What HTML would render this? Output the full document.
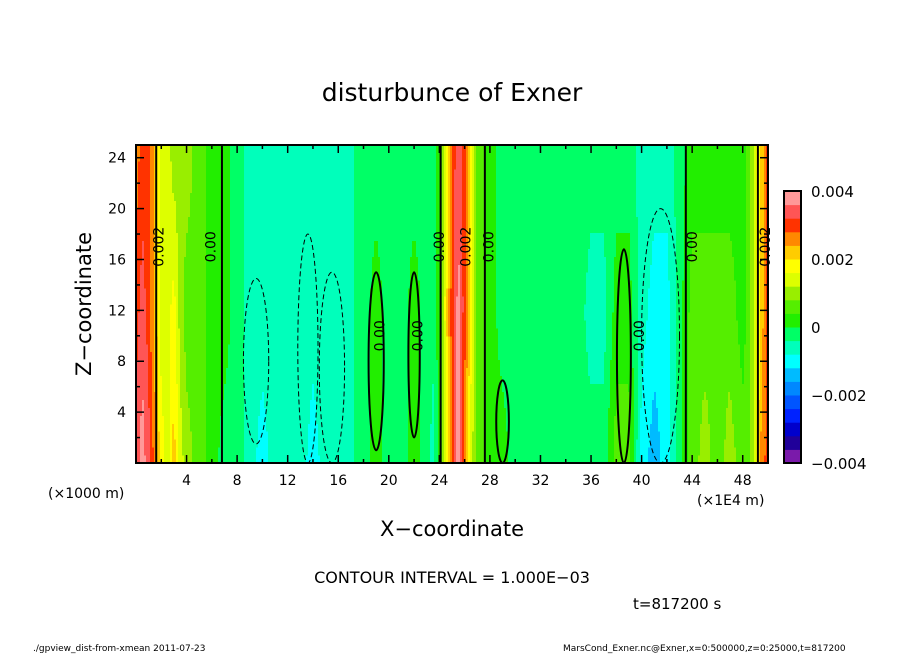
<!DOCTYPE html>
<html><head><meta charset="utf-8"><style>
body{margin:0;background:#fff;width:904px;height:654px;overflow:hidden;font-family:"DejaVu Sans","Liberation Sans",sans-serif}
svg text{font-family:"DejaVu Sans","Liberation Sans",sans-serif}
</style></head><body>
<svg id="chart" width="904" height="654" viewBox="0 0 904 654" xmlns="http://www.w3.org/2000/svg">
<text x="452" y="101" font-size="25" text-anchor="middle" fill="#000">disturbunce of Exner</text>
<g id="field" shape-rendering="crispEdges"></g>
<g id="contours" fill="none" stroke="#000"></g>
<g id="axes"></g>
<g id="cbar"></g>
<text transform="translate(91,304) rotate(-90)" font-size="21" text-anchor="middle">Z−coordinate</text>
<text x="452" y="536" font-size="21" text-anchor="middle">X−coordinate</text>
<text x="48" y="498" font-size="14">(×1000 m)</text>
<text x="697" y="505" font-size="14">(×1E4 m)</text>
<text x="452" y="583" font-size="16" text-anchor="middle">CONTOUR INTERVAL = 1.000E−03</text>
<text x="633" y="609" font-size="15">t=817200 s</text>
<text x="33" y="651" font-size="9">./gpview_dist-from-xmean  2011-07-23</text>
<text x="563" y="651" font-size="9">MarsCond_Exner.nc@Exner,x=0:500000,z=0:25000,t=817200</text>
</svg>
<script>
// data (values in units of 1e-3)
const colXs   = [0,0.5,1,1.5,2,2.5,3,3.5,4,5,6,7,8,9,10,11,12,13,14,15,16,17,17.5,18,19,20,21,22,23,23.5,24,24.5,25,25.5,26,26.5,27,28,29,30,31,32,33,34,35,36,37,38,39,40,41,42,43,44,45,46,47,48,48.5,49,49.5,50];
const valTop  = [2.6,3.0,3.0,2.2,1.4,1.4,1.0,1.0,1.0,0.6,0.2,0.2,-0.2,-0.6,-0.6,-0.6,-0.6,-0.6,-0.6,-0.6,-0.6,-0.6,-0.2,-0.2,-0.2,-0.2,-0.2,-0.2,-0.2,-0.2,0.2,1.4,3.0,3.4,3.0,1.8,0.6,0.2,-0.2,-0.2,-0.2,-0.2,-0.2,-0.2,-0.2,-0.2,-0.2,-0.2,-0.2,-0.6,-0.6,-0.6,-0.2,0.2,0.2,0.2,0.2,0.2,0.6,1.4,2.2,3.0];
const valMid  = [3.0,3.4,3.0,2.2,1.4,1.4,1.8,1.0,0.6,0.6,0.2,0.2,-0.2,-0.6,-0.6,-0.6,-0.6,-0.6,-0.6,-0.6,-0.6,-0.6,-0.2,-0.2,0.2,-0.2,-0.2,0.2,-0.2,-0.2,0.2,1.8,3.0,3.8,3.0,1.8,0.6,0.2,-0.2,-0.2,-0.2,-0.2,-0.2,-0.2,-0.2,-0.6,-0.6,0.2,0.2,-0.6,-1.0,-1.0,-0.2,0.6,0.6,0.6,0.6,0.2,0.6,1.4,2.2,3.0];
const valBot  = [3.4,3.8,3.4,2.6,1.8,1.4,2.2,1.4,1.0,0.6,0.2,-0.2,-0.2,-0.6,-1.0,-0.6,-0.6,-0.6,-1.0,-0.6,-0.6,-0.6,-0.2,-0.2,0.2,-0.2,-0.2,0.2,-0.2,-0.6,0.2,1.4,3.0,3.8,2.6,1.4,0.6,0.2,0.2,-0.2,-0.2,-0.2,-0.2,-0.2,-0.2,-0.2,-0.2,0.6,0.6,-1.0,-1.4,-1.0,-0.2,0.6,1.0,0.6,1.0,0.6,0.6,1.4,2.6,3.0];
const cbLabels = ["0.004","0.002","0","−0.002","−0.004"];
const cbValues = [4,2,0,-2,-4];
const xTicks = [4,8,12,16,20,24,28,32,36,40,44,48];
const zTicks = [4,8,12,16,20,24];
const solidLines = [[6.8,0,25],[24.1,0,25],[27.6,0,25],[43.5,0,25],[1.6,0,25],[49.2,0,25]];
const solidEllipses = [[19,1,15,0.6],[22,2,15,0.45],[29,0,6.5,0.5],[38.6,0,16.8,0.55]];
const dashEllipses = [[9.5,1.5,14.5,1.0],[13.6,0,18,0.8],[15.5,0,15,1.0],[41.5,0,20,1.5]];
const contourLabels = [[1.7,17,"0.002"],[5.8,17,"0.00"],[19.2,10,"0.00"],[22.2,10,"0.00"],[23.9,17,"0.00"],[26,17,"0.002"],[27.8,17,"0.00"],[39.7,10,"0.00"],[43.9,17,"0.00"],[49.7,17,"0.002"]];

const X0=136,X1=768,Y0=463,Y1=145;
const sx=x=>X0+(x/50)*(X1-X0);
const sz=z=>Y0-(z/25)*(Y0-Y1);
const NS="http://www.w3.org/2000/svg";
function mk(tag,attrs,parent){const e=document.createElementNS(NS,tag);for(const k in attrs)e.setAttribute(k,attrs[k]);parent.appendChild(e);return e;}
const bins=["#7a1aaa","#200099","#0000cc","#0022ff","#0055ff","#0088ff","#00bbff","#00ffff","#00ffbb","#00ff66","#22ee00","#55ee00","#99ee00","#ddff00","#ffff00","#ffcc00","#ff8800","#ff3300","#ff5555","#ff9999"];
function colorOf(v){let i=Math.floor((v+4)/0.4);i=Math.max(0,Math.min(19,i));return bins[i];}
function interp(arr,x){
  for(let i=0;i<colXs.length-1;i++){if(x<=colXs[i+1]){const t=(x-colXs[i])/(colXs[i+1]-colXs[i]);return arr[i]+(arr[i+1]-arr[i])*t;}}
  return arr[arr.length-1];
}
const field=document.getElementById('field');
const NR=40, DX=2;
for(let px=X0;px<X1;px+=DX){
  const x=((px+DX/2-X0)/(X1-X0))*50;
  const t=interp(valTop,x),m=interp(valMid,x),b=interp(valBot,x);
  for(let r=0;r<NR;r++){
    const z=(r+0.5)*25/NR;
    let v;
    if(z>=12) v=m+(t-m)*Math.min(1,(z-12)/12);
    else v=b+(m-b)*(z/12);
    const rc=mk('rect',{x:px,y:sz((r+1)*25/NR),width:DX+0.5,height:sz(r*25/NR)-sz((r+1)*25/NR)+0.5,fill:colorOf(v)},field);
    
    
  }
}
const cg=document.getElementById('contours');
solidLines.forEach(l=>{const e=mk('line',{x1:sx(l[0]),y1:sz(l[1]),x2:sx(l[0]),y2:sz(l[2]),'stroke-width':2},cg);

});
function ell(a,dash){const cx=sx(a[0]),rx=sx(a[3])-sx(0),cy=(sz(a[1])+sz(a[2]))/2,ry=(sz(a[1])-sz(a[2]))/2;
 const e=mk('ellipse',{cx:cx,cy:cy,rx:rx,ry:ry,'stroke-width':dash?1:2},cg);if(dash)e.setAttribute('stroke-dasharray','5,3');return e;}
solidEllipses.forEach(a=>{const e=ell(a,false);

});
dashEllipses.forEach(a=>{const e=ell(a,true);

});
contourLabels.forEach(l=>{const x=sx(l[0]),y=sz(l[1]);
 const t=mk('text',{transform:`translate(${x+6},${y}) rotate(-90)`,'font-size':14,'text-anchor':'middle',fill:'#000',stroke:'none'},cg);
 t.textContent=l[2];
 
 });
const ax=document.getElementById('axes');
mk('rect',{x:X0,y:Y1,width:X1-X0,height:Y0-Y1,fill:'none',stroke:'#000','stroke-width':2},ax);
for(let x=2;x<50;x+=2){const L=x%4===0?8:4;
 mk('line',{x1:sx(x),y1:Y0,x2:sx(x),y2:Y0-L,stroke:'#000','stroke-width':1.5},ax);
 mk('line',{x1:sx(x),y1:Y1,x2:sx(x),y2:Y1+L,stroke:'#000','stroke-width':1.5},ax);}
for(let z=2;z<25;z+=2){const L=z%4===0?8:4;
 mk('line',{x1:X0,y1:sz(z),x2:X0+L,y2:sz(z),stroke:'#000','stroke-width':1.5},ax);
 mk('line',{x1:X1,y1:sz(z),x2:X1-L,y2:sz(z),stroke:'#000','stroke-width':1.5},ax);}
xTicks.forEach(t=>{const e=mk('text',{x:sx(t),y:485,'font-size':14,'text-anchor':'middle'},ax);e.textContent=t;

});
zTicks.forEach(t=>{const e=mk('text',{x:126,y:sz(t)+5,'font-size':14,'text-anchor':'end'},ax);e.textContent=t;

});
const cb=document.getElementById('cbar');
const CX=784,CW=17,CT=191,CB=463,bh=(CB-CT)/20;
bins.forEach((c,i)=>{const e=mk('rect',{x:CX,y:CB-(i+1)*bh,width:CW,height:bh+0.5,fill:c},cb);

});
mk('rect',{x:CX,y:CT,width:CW,height:CB-CT,fill:'none',stroke:'#000','stroke-width':2},cb);
cbValues.forEach((v,i)=>{const y=CB-(v+4)/8*(CB-CT);const e=mk('text',{x:811,y:y+6,'font-size':15},cb);e.textContent=cbLabels[i];

});
</script>
</body></html>
